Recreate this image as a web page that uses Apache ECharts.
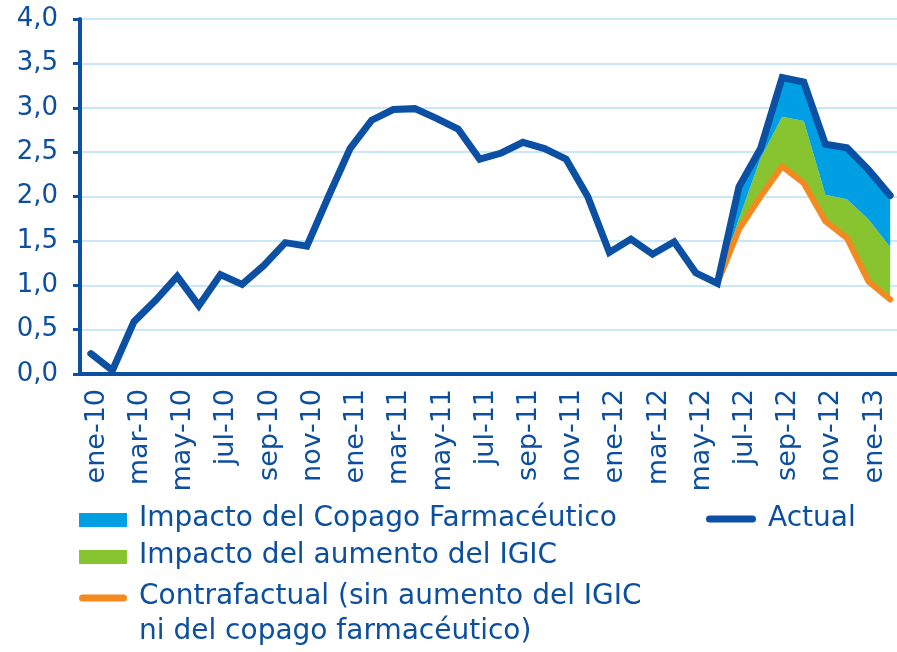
<!doctype html>
<html>

<head>
    <meta charset="utf-8">
    <title>IPC Canarias - impacto IGIC y copago</title>
    <script src="https://cdn.jsdelivr.net/npm/echarts@6/dist/echarts.min.js"></script>
    <style>
        html, body {
            margin: 0;
            padding: 0;
            background: #fff;
            overflow: hidden;
        }

        #container {
            width: 905px;
            height: 652px;
        }
    </style>
</head>

<body>

    <div id="container"></div>

    <script type="text/javascript">
        // meses, de ene-10 a feb-13
        var meses = ['ene-10', 'feb-10', 'mar-10', 'abr-10', 'may-10', 'jun-10', 'jul-10', 'ago-10', 'sep-10', 'oct-10', 'nov-10', 'dic-10',
            'ene-11', 'feb-11', 'mar-11', 'abr-11', 'may-11', 'jun-11', 'jul-11', 'ago-11', 'sep-11', 'oct-11', 'nov-11', 'dic-11',
            'ene-12', 'feb-12', 'mar-12', 'abr-12', 'may-12', 'jun-12', 'jul-12', 'ago-12', 'sep-12', 'oct-12', 'nov-12', 'dic-12',
            'ene-13', 'feb-13'];

        // tasa actual
        var actual = [0.23, 0.04, 0.59, 0.83, 1.10, 0.77, 1.12, 1.01, 1.22, 1.48, 1.44, 2.00,
            2.54, 2.86, 2.98, 2.99, 2.88, 2.76, 2.42, 2.49, 2.61, 2.54, 2.42, 2.00,
            1.37, 1.52, 1.35, 1.49, 1.14, 1.02, 2.11, 2.54, 3.34, 3.29, 2.59, 2.55,
            2.30, 2.01];

        // a partir de jun-12
        var inicio = 'jun-12';
        var contrafactual = [1.02, 1.63, 2.00, 2.34, 2.15, 1.72, 1.53, 1.04, 0.84];
        var impactoIGIC = [0, 0.12, 0.43, 0.56, 0.70, 0.30, 0.44, 0.70, 0.59];
        var impactoCopago = [0, 0.36, 0.11, 0.44, 0.44, 0.57, 0.58, 0.56, 0.58];

        var yTicks = [0, 0.5, 1, 1.5, 2, 2.5, 3, 3.5, 4];

        var nombres = ['Impacto del Copago Farmacéutico', 'Impacto del aumento del IGIC',
            'Contrafactual (sin aumento del IGIC\nni del copago farmacéutico)', 'Actual'];

        var azulOscuro = '#0b50a2';
        var azulClaro = '#009fe3';
        var verde = '#87c42f';
        var naranja = '#f48a1f';
        var texto = '#0d4f9f';
        var fuente = 'DejaVu Sans';

        // rellena con huecos los meses anteriores a jun-12
        function completar(arr) {
            var k = meses.indexOf(inicio);
            var out = [];
            for (var i = 0; i < k; i++) out.push('-');
            return out.concat(arr);
        }

        var option = {
            animation: false,
            grid: {
                left: 80,
                top: 19,
                width: 821,
                height: 355
            },
            xAxis: {
                type: 'category',
                data: meses,
                boundaryGap: true,
                axisLine: { lineStyle: { color: azulOscuro, width: 4 } },
                axisTick: { interval: 1, length: 8, lineStyle: { color: azulOscuro, width: 3 } },
                axisLabel: {
                    interval: 1,
                    rotate: 90,
                    margin: 15,
                    verticalAlign: 'top',
                    lineHeight: 12,
                    color: texto,
                    fontFamily: fuente,
                    fontSize: 27
                },
                splitLine: { show: false }
            },
            yAxis: {
                type: 'value',
                min: yTicks[0],
                max: yTicks[yTicks.length - 1],
                interval: 0.5,
                axisLine: { show: true, lineStyle: { color: azulOscuro, width: 4 } },
                axisTick: { show: true, length: 7, lineStyle: { color: azulOscuro, width: 3 } },
                axisLabel: {
                    margin: 22,
                    color: texto,
                    fontFamily: fuente,
                    fontSize: 26,
                    formatter: function (v) {
                        return v.toFixed(1).replace('.', ',');
                    }
                },
                splitLine: { lineStyle: { color: '#c8e8f7', width: 2 } }
            },
            series: [{
                name: 'base',
                type: 'line',
                stack: 'total',
                data: completar(contrafactual),
                symbol: 'none',
                lineStyle: { opacity: 0 },
                silent: true
            }, {
                name: nombres[1],
                type: 'line',
                stack: 'total',
                data: completar(impactoIGIC),
                symbol: 'none',
                lineStyle: { width: 0 },
                areaStyle: { color: verde, opacity: 1 }
            }, {
                name: nombres[0],
                type: 'line',
                stack: 'total',
                data: completar(impactoCopago),
                symbol: 'none',
                lineStyle: { width: 0 },
                areaStyle: { color: azulClaro, opacity: 1 }
            }, {
                name: nombres[2],
                type: 'line',
                data: completar(contrafactual),
                symbol: 'none',
                lineStyle: { color: naranja, width: 6, cap: 'round', join: 'miter' }
            }, {
                name: nombres[3],
                type: 'line',
                data: actual,
                symbol: 'none',
                lineStyle: { color: azulOscuro, width: 7, cap: 'round', join: 'miter' }
            }],
            graphic: [
                { type: 'rect', shape: { x: 79, y: 513, width: 48, height: 14 }, style: { fill: azulClaro } },
                { type: 'text', x: 139, y: 519, style: { text: nombres[0], fill: texto, font: '28px "DejaVu Sans"', verticalAlign: 'middle' } },
                { type: 'rect', shape: { x: 79, y: 550, width: 48, height: 14 }, style: { fill: verde } },
                { type: 'text', x: 139, y: 556, style: { text: nombres[1], fill: texto, font: '28px "DejaVu Sans"', verticalAlign: 'middle' } },
                { type: 'line', shape: { x1: 82.5, y1: 598, x2: 123.5, y2: 598 }, style: { stroke: naranja, lineWidth: 7, lineCap: 'round' } },
                { type: 'text', x: 139, y: 614, style: { text: nombres[2], fill: texto, font: '28px "DejaVu Sans"', lineHeight: 35, verticalAlign: 'middle' } },
                { type: 'line', shape: { x1: 709.5, y1: 519, x2: 752.5, y2: 519 }, style: { stroke: azulOscuro, lineWidth: 7, lineCap: 'round' } },
                { type: 'text', x: 768, y: 519, style: { text: nombres[3], fill: texto, font: '28px "DejaVu Sans"', verticalAlign: 'middle' } }
            ]
        };

        var myChart = echarts.init(document.getElementById('container'));
        myChart.setOption(option);
    </script>
</body>

</html>
